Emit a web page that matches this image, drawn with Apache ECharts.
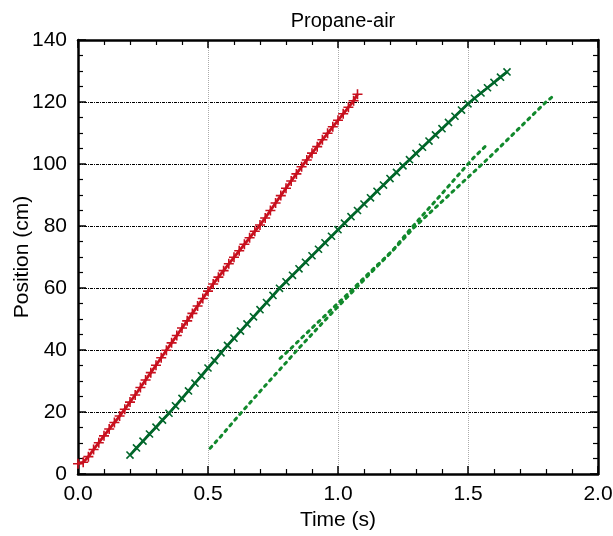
<!DOCTYPE html>
<html>
<head>
<meta charset="utf-8">
<script src="https://cdn.jsdelivr.net/npm/echarts@6/dist/echarts.min.js"></script>
<style>
html,body{margin:0;padding:0;background:#fff;}
#chart{width:613px;height:536px;}
</style>
</head>
<body>
<div id="chart"></div>
<script>
// Red series (+ markers): [time s, position cm]
var redData = [
  [0.00,3.3],[0.02,3.8],[0.04,5.6],[0.06,7.9],[0.08,10.1],[0.10,12.3],[0.12,14.5],[0.14,16.6],
  [0.16,18.7],[0.18,20.9],[0.20,23.2],[0.22,25.5],[0.24,27.9],[0.26,30.3],[0.28,32.7],[0.30,35.1],
  [0.32,37.5],[0.34,39.9],[0.36,42.3],[0.38,44.7],[0.40,47.1],[0.42,49.4],[0.44,51.8],[0.46,54.2],
  [0.48,56.6],[0.50,59.0],[0.52,61.3],[0.54,63.5],[0.56,65.6],[0.58,67.8],[0.60,69.9],[0.62,72.0],
  [0.64,74.1],[0.66,76.2],[0.68,78.3],[0.70,80.3],[0.72,82.6],[0.74,85.0],[0.76,87.4],[0.78,89.8],
  [0.80,92.2],[0.82,94.5],[0.84,96.8],[0.86,99.1],[0.88,101.3],[0.90,103.5],[0.92,105.6],[0.94,107.8],
  [0.96,109.9],[0.98,112.0],[1.00,114.1],[1.02,116.2],[1.04,118.3],[1.06,120.4],[1.075,122.5]
];
// Dark green series (x markers)
var greenData = [
  [0.200,6.1],[0.225,8.4],[0.250,10.6],[0.275,12.9],[0.300,15.1],[0.325,17.4],[0.350,19.6],[0.375,22.0],
  [0.400,24.4],[0.425,26.8],[0.450,29.3],[0.475,31.7],[0.500,34.2],[0.525,36.6],[0.550,39.1],[0.575,41.5],
  [0.600,43.8],[0.625,46.1],[0.650,48.4],[0.675,50.7],[0.700,53.0],[0.725,55.3],[0.750,57.6],[0.775,59.9],
  [0.800,62.0],[0.825,64.1],[0.850,66.2],[0.875,68.3],[0.900,70.4],[0.925,72.5],[0.950,74.6],[0.975,76.7],
  [1.000,78.8],[1.025,80.9],[1.050,83.0],[1.075,85.0],[1.100,87.1],[1.125,89.1],[1.150,91.2],[1.175,93.2],
  [1.200,95.3],[1.225,97.3],[1.250,99.4],[1.275,101.4],[1.300,103.4],[1.325,105.4],[1.350,107.4],[1.375,109.4],
  [1.400,111.4],[1.425,113.4],[1.450,115.4],[1.475,117.4],[1.500,119.4],[1.525,121.2],[1.550,122.9],[1.575,124.6],
  [1.600,126.3],[1.625,128.0],[1.650,129.7]
];
// Light green dashed, lower-right line
var dashedLower = [
  [0.508,8.3],[0.55,12.2],[0.60,17.1],[0.63,20.0],[0.70,26.6],[0.75,31.3],[0.80,35.9],[0.843,40.0],
  [0.90,45.1],[0.95,49.6],[1.00,54.0],[1.07,60.0],[1.12,64.4],[1.17,68.6],[1.21,72.0],[1.25,75.6],
  [1.29,79.3],[1.35,84.0],[1.40,87.9],[1.45,91.8],[1.50,95.7],[1.555,100.0],[1.60,103.6],[1.65,107.7],
  [1.70,111.8],[1.75,115.9],[1.80,120.0],[1.828,121.9]
];
// Light green dashed, upper line
var dashedUpper = [
  [0.777,37.3],[0.813,40.0],[0.86,43.9],[0.91,47.9],[0.96,51.9],[1.01,55.9],[1.06,59.9],[1.11,64.1],
  [1.16,68.1],[1.21,72.1],[1.264,77.6],[1.309,81.9],[1.36,86.7],[1.41,91.4],[1.46,96.2],[1.519,101.8],
  [1.568,105.8]
];
var titleText = 'Propane-air';
var xName = 'Time (s)';
var yName = 'Position (cm)';

var FONT = 'Liberation Sans, Arial, Helvetica, sans-serif';
var plusPath = 'path://M0,4.2H10V5.8H0Z M4.2,0H5.8V10H4.2Z';

var chart = echarts.init(document.getElementById('chart'), null, {renderer:'canvas'});

function xAx(pos, labels) {
  return {
    type:'value', position:pos, min:0, max:2, interval:0.5,
    name: labels ? xName : '', nameLocation:'middle', nameGap:36, nameMoveOverlap:false,
    nameTextStyle:{fontFamily:FONT, fontSize:21, color:'#000'},
    axisLine:{show:true, onZero:false, lineStyle:{color:'#000', width:2.5}},
    axisTick:{show:true, inside:true, length:8, lineStyle:{color:'#000', width:1.5}},
    minorTick:{show:true, splitNumber:5, length:5, lineStyle:{color:'#000', width:1.2}},
    axisLabel:{show:labels, fontFamily:FONT, fontSize:21, color:'#000', margin:10,
      formatter:function(v){return v.toFixed(1);}},
    splitLine:{show:labels, lineStyle:{color:'#aaa', type:'dotted', width:1}}
  };
}
function yAx(pos, labels) {
  return {
    type:'value', position:pos, min:0, max:140, interval:20,
    name: labels ? yName : '', nameLocation:'middle', nameGap:45, nameMoveOverlap:false,
    nameTextStyle:{fontFamily:FONT, fontSize:21, color:'#000'},
    axisLine:{show:true, onZero:false, lineStyle:{color:'#000', width:2.5}},
    axisTick:{show:true, inside:true, length:8, lineStyle:{color:'#000', width:1.5}},
    minorTick:{show:true, splitNumber:4, length:5, lineStyle:{color:'#000', width:1.2}},
    axisLabel:{show:labels, fontFamily:FONT, fontSize:21, color:'#000', margin:11},
    splitLine:{show:labels, lineStyle:{color:'#000', type:[3,1,1,1], width:1}}
  };
}

chart.setOption({
  animation:false,
  backgroundColor:'#fff',
  title:{text:titleText, left:338, top:6, textAlign:'center',
    textStyle:{fontFamily:FONT, fontSize:20, fontWeight:'normal', color:'#000'}},
  grid:{left:78, right:15, top:40, bottom:62, containLabel:false, outerBoundsMode:'none'},
  xAxis:[xAx('bottom', true), xAx('top', false)],
  yAxis:[yAx('left', true), yAx('right', false)],
  series:[
    {type:'line', data:dashedLower, xAxisIndex:0, yAxisIndex:0, showSymbol:false, z:2,
      lineStyle:{color:'#11892c', width:3, type:[2.5,5], cap:'round'}},
    {type:'line', data:dashedUpper, xAxisIndex:0, yAxisIndex:0, showSymbol:false, z:2,
      lineStyle:{color:'#11892c', width:3, type:[2.5,5], cap:'round'}},
    {type:'line', data:greenData, xAxisIndex:0, yAxisIndex:0, z:3,
      symbol:plusPath, symbolSize:10, symbolRotate:45, showAllSymbol:true,
      itemStyle:{color:'#00662a'}, lineStyle:{color:'#00662a', width:2.8}},
    {type:'line', data:redData, xAxisIndex:0, yAxisIndex:0, z:3,
      symbol:plusPath, symbolSize:10, showAllSymbol:true,
      itemStyle:{color:'#c8101e'}, lineStyle:{color:'#c8101e', width:2.8}}
  ]
});
</script>
</body>
</html>
